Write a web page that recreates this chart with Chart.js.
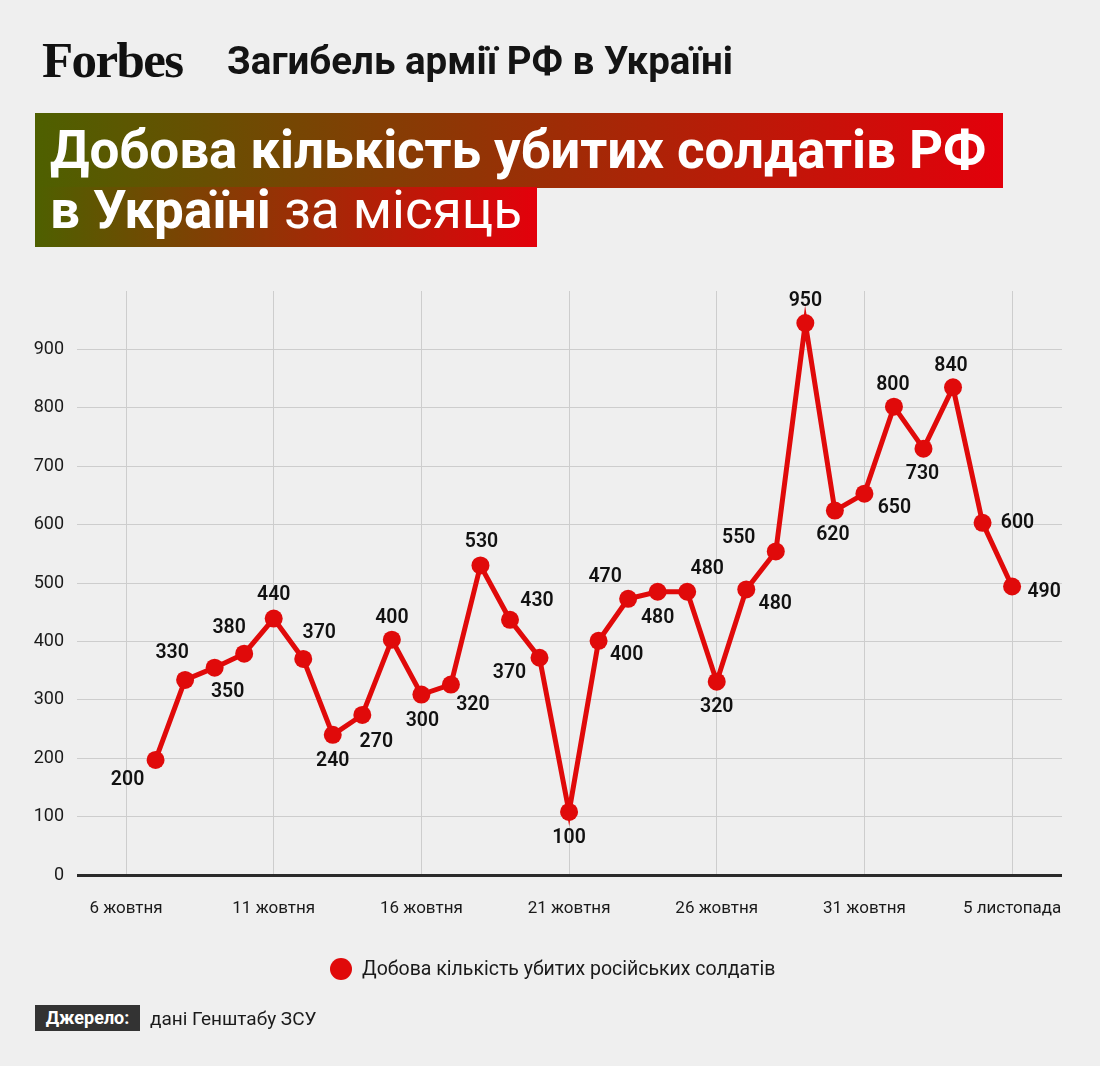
<!DOCTYPE html>
<html><head><meta charset="utf-8">
<script src="https://cdn.jsdelivr.net/npm/chart.js@4.4.0/dist/chart.umd.min.js"></script>
<style>
html,body{margin:0;padding:0;background:#efefef;}
body{width:1100px;height:1066px;position:relative;overflow:hidden;font-family:Roboto,"Noto Sans",sans-serif;}
#wrap{position:absolute;left:0;top:0;width:1100px;height:1066px;}
.abs{position:absolute;white-space:nowrap;line-height:1;}
#logo{left:42px;top:35px;font-family:"Liberation Serif","DejaVu Serif",serif;font-weight:700;font-size:51px;letter-spacing:-1.6px;color:#111;}
#sub{left:227px;top:42px;font-size:38.5px;font-weight:700;color:#141414;}
.box{position:absolute;left:35px;}
#b1{top:113px;width:968px;height:75px;background:linear-gradient(90deg,#4e6000,#e3000b);}
#b2{top:187px;width:502px;height:60px;background:linear-gradient(90deg,#4e6000,#e3000b);}
.t{position:absolute;left:50px;color:#fff;font-size:53px;white-space:nowrap;line-height:1;}
#t1{top:124px;font-weight:700;letter-spacing:-0.1px;}
#t2{top:184px;}
#t2 b{font-weight:700;}
#t2 span{font-weight:400;}
#leg{left:330px;top:958px;height:22px;}
#legdot{position:absolute;left:0;top:0;width:22px;height:22px;border-radius:50%;background:#e00a0a;}
#legtxt{position:absolute;left:32px;top:1px;font-size:19.5px;color:#1a1a1a;}
#src{left:35px;top:1005px;width:105px;height:26px;background:#333;color:#fff;font-weight:700;font-size:18px;text-align:center;line-height:26px;}
#srctxt{left:150px;top:1009px;font-size:19px;color:#1a1a1a;}
</style></head>
<body>
<div id="wrap"><canvas id="c"></canvas></div>
<div id="logo" class="abs">Forbes</div>
<div id="sub" class="abs">Загибель армії РФ в Україні</div>
<div id="b1" class="box"></div>
<div id="b2" class="box"></div>
<div id="t1" class="t">Добова кількість убитих солдатів РФ</div>
<div id="t2" class="t"><b>в Україні</b> <span>за місяць</span></div>
<div id="leg" class="abs"><div id="legdot"></div><div id="legtxt"></div></div>
<div id="src" class="abs">Джерело:</div>
<div id="srctxt" class="abs">дані Генштабу ЗСУ</div>
<script>
// x = day number counted from 6 October (0) to 5 November (30)
const tickDays = [0, 5, 10, 15, 20, 25, 30];
const tickLabels = ['6 жовтня', '11 жовтня', '16 жовтня', '21 жовтня', '26 жовтня', '31 жовтня', '5 листопада'];
const yTicks = [0, 100, 200, 300, 400, 500, 600, 700, 800, 900];
const days = [1,2,3,4,5,6,7,8,9,10,11,12,13,14,15,16,17,18,19,20,21,22,23,24,25,26,27,28,29,30];
const killed = [197,334,355,379,439,370,240,274,403,309,326,530,437,372,108,401,473,485,485,331,489,554,945,624,653,802,730,835,603,494];
const shownLabels = [200,330,350,380,440,370,240,270,400,300,320,530,430,370,100,400,470,480,480,320,480,550,950,620,650,800,730,840,600,490];
const seriesName = 'Добова кількість убитих російських солдатів';

// label placement (offset from point centre to label centre, px)
const labelOffsets = [[-28,20],[-13,-27],[13,24],[-15,-26],[0,-23],[16,-26],[0,26],[14,27],[0,-22],[1,27],
  [22,21],[1,-23],[27,-19],[-30,15],[0,26],[28,14],[-23,-22],[0,26],[20,-23],[0,25],
  [29,15],[-37,-13],[0,-22],[-2,25],[30,14],[-1,-22],[-1,25],[-2,-21],[35,0],[32,6]];

document.getElementById('legtxt').textContent = seriesName;

const RED = '#e00a0a';

const pointLabels = {
  id: 'pointLabels',
  afterDatasetsDraw(chart) {
    const ctx = chart.ctx;
    const meta = chart.getDatasetMeta(0);
    ctx.save();
    ctx.font = '600 19.5px Roboto';
    ctx.fillStyle = '#111';
    ctx.textAlign = 'center';
    ctx.textBaseline = 'middle';
    meta.data.forEach((pt, i) => {
      const o = labelOffsets[i];
      ctx.fillText(String(shownLabels[i]), pt.x + o[0], pt.y + o[1]);
    });
    ctx.restore();
  }
};

new Chart(document.getElementById('c'), {
  type: 'line',
  data: {
    datasets: [{
      label: seriesName,
      data: days.map((d, i) => ({x: d, y: killed[i]})),
      borderColor: RED,
      backgroundColor: RED,
      borderWidth: 5,
      pointRadius: 9,
      pointHoverRadius: 9,
      pointBackgroundColor: RED,
      pointBorderWidth: 0,
      tension: 0,
      clip: false
    }]
  },
  options: {
    responsive: true,
    maintainAspectRatio: false,
    animation: false,
    devicePixelRatio: 1,
    layout: {padding: {top: 291, right: 38, bottom: 131, left: 0}},
    plugins: {legend: {display: false}, tooltip: {enabled: false}},
    scales: {
      x: {
        type: 'linear',
        min: -1.66,
        max: 31.69,
        afterBuildTicks: s => { s.ticks = tickDays.map(v => ({value: v})); },
        afterFit: s => { s.height = 60; },
        grid: {color: '#cdcdcd', lineWidth: 1, drawTicks: false},
        border: {display: false},
        ticks: {
          padding: 24,
          maxRotation: 0,
          autoSkip: false,
          color: '#1a1a1a',
          font: {family: 'Roboto', size: 17},
          callback: v => tickLabels[tickDays.indexOf(v)]
        }
      },
      y: {
        min: 0,
        max: 1000,
        afterBuildTicks: s => { s.ticks = yTicks.map(v => ({value: v})); },
        afterFit: s => { s.width = 77; },
        grid: {
          drawTicks: false,
          color: c => c.tick && c.tick.value === 0 ? '#2a2a2a' : '#cdcdcd',
          lineWidth: c => c.tick && c.tick.value === 0 ? 3 : 1
        },
        border: {display: false},
        ticks: {padding: 13, color: '#1a1a1a', font: {family: 'Roboto', size: 18}}
      }
    }
  },
  plugins: [pointLabels]
});
</script>
</body></html>
